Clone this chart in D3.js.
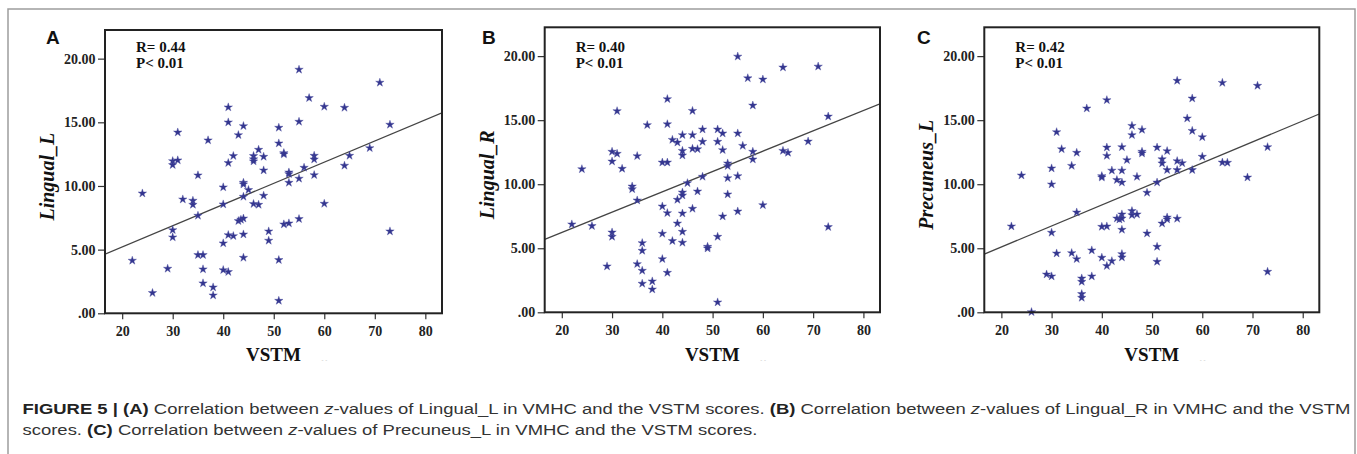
<!DOCTYPE html>
<html>
<head>
<meta charset="utf-8">
<script src="https://cdn.jsdelivr.net/npm/d3@7"></script>
<style>
  body { margin: 0; background: #fff; }
  svg { display: block; }
</style>
</head>
<body>
<div id="chart"></div>
<script>
// VSTM score vs z-value (VMHC), one list of [vstm, z] per panel
const lingualL = [
  [22,4.14],[24,9.42],[26,1.60],[29,3.51],[30,11.96],[30,11.65],[30,6.54],[30,5.97],
  [31,14.21],[31,12.02],[32,8.95],[34,8.85],[34,8.53],[35,10.84],[35,7.67],[35,4.58],
  [36,4.58],[36,3.46],[36,2.36],[37,13.59],[38,2.04],[38,1.41],[40,9.90],[40,8.56],
  [40,5.50],[40,3.40],[41,16.18],[41,15.00],[41,11.81],[41,6.15],[41,3.25],[42,12.36],
  [42,6.07],[43,14.00],[43,7.25],[43.5,7.35],[44,7.45],[44,14.71],[44,10.26],[44,10.13],
  [44,9.16],[44,6.20],[44,4.37],[45,9.69],[46,12.36],[46,12.10],[46,11.94],[46,8.59],
  [47,12.85],[47,8.53],[48,12.30],[48,11.23],[48,9.24],[49,6.44],[49,5.71],[51,14.58],
  [51,13.35],[51,4.19],[51,0.99],[52,12.59],[52,12.49],[52,6.99],[53,11.07],[53,10.94],
  [53,10.26],[53,7.07],[55,19.14],[55,15.05],[55,10.58],[55,7.41],[56,11.44],[57,16.91],
  [58,12.38],[58,12.09],[58,10.86],[60,16.23],[60,8.61],[64,16.15],[64,11.60],[65,12.38],
  [69,12.98],[71,18.12],[73,14.82],[73,6.44]
];
const lingualR = [
  [22,6.87],[24,11.18],[26,6.74],[29,3.59],[30,12.54],[30,11.78],[30,6.24],[30,5.90],
  [31,15.71],[31,12.38],[32,11.21],[34,9.83],[34,9.62],[35,12.20],[35,8.74],[35,3.77],
  [36,5.41],[36,4.81],[36,3.25],[36,2.24],[37,14.62],[38,2.42],[38,1.79],[40,11.70],
  [40,8.27],[40,6.14],[40,4.16],[41,16.65],[41,14.69],[41,11.70],[41,7.75],[41,3.09],
  [42,13.47],[42,5.57],[43,13.26],[43,8.79],[43,6.94],[44,13.84],[44,12.61],[44,12.25],
  [44,9.36],[44,9.13],[44,7.72],[44,6.29],[44,5.44],[45,10.09],[46,15.73],[46,13.84],
  [46,12.77],[46,8.09],[47,12.74],[47,9.44],[48,14.28],[48,13.32],[48,10.59],[49,5.12],
  [49,4.99],[51,14.28],[51,13.32],[51,5.90],[51,0.78],[52,13.97],[52,12.67],[52,7.49],
  [53,11.63],[53,11.42],[53,10.48],[53,9.21],[55,19.97],[55,13.97],[55,10.64],[55,7.88],
  [56,13.00],[57,18.28],[58,16.15],[58,12.54],[58,11.94],[60,18.18],[60,8.37],[64,19.12],
  [64,12.61],[65,12.46],[69,13.34],[71,19.19],[73,15.29],[73,6.66]
];
const precuneusL = [
  [22,6.71],[24,10.69],[26,0.02],[29,2.96],[30,11.24],[30,9.99],[30,6.22],[30,2.81],
  [31,14.07],[31,4.60],[32,12.74],[34,11.44],[34,4.63],[35,12.46],[35,7.80],[35,4.16],
  [36,2.65],[36,2.39],[36,1.43],[36,1.14],[37,15.92],[38,4.84],[38,2.81],[40,10.64],
  [40,10.53],[40,6.68],[40,4.27],[41,16.57],[41,12.87],[41,12.22],[41,6.71],[41,3.62],
  [42,11.07],[42,4.00],[43,10.33],[43,7.33],[43.5,7.25],[44,12.90],[44,11.07],[44,10.14],
  [44,7.65],[44,7.33],[44,6.45],[44,4.55],[44,4.29],[45,11.89],[46,14.56],[46,13.84],
  [46,7.91],[46,7.59],[47,10.58],[47,7.65],[48,14.25],[48,12.54],[48,12.41],[49,9.34],
  [49,6.16],[51,12.87],[51,10.14],[51,5.12],[51,3.95],[52,11.96],[52,11.63],[52,6.94],
  [53,12.59],[53,11.11],[53,7.41],[53,7.26],[55,18.08],[55,11.81],[55,11.11],[55,7.31],
  [56,11.65],[57,15.14],[58,16.70],[58,14.17],[58,11.11],[60,13.68],[60,12.15],[64,17.92],
  [64,11.70],[65,11.68],[69,10.53],[71,17.69],[73,12.90],[73,3.17]
];

// fit lines as drawn: [intercept, slope]
const fitA = [1.89, 0.1663];
const fitB = [3.06, 0.1586];
const fitC = [1.82, 0.1640];

const panelLetters = ["A", "B", "C"];
const yLabels = ["Lingual_L", "Lingual_R", "Precuneus_L"];
const rValues = ["R= 0.44", "R= 0.40", "R= 0.42"];
const pValues = ["P< 0.01", "P< 0.01", "P< 0.01"];
const xTicks = [20, 30, 40, 50, 60, 70, 80];
const yTicks = [0, 5, 10, 15, 20];
const xLabel = "VSTM";

const width = 1357, height = 454;
const serif = "'Liberation Serif', 'Times New Roman', serif";
const sans = "'Liberation Sans', Arial, Helvetica, sans-serif";

const panels = [
  { data: lingualL, fit: fitA, box: { left: 105, right: 442, top: 30, bottom: 313.3 }, letterX: 46 },
  { data: lingualR, fit: fitB, box: { left: 544.7, right: 880, top: 27.3, bottom: 312.3 }, letterX: 482 },
  { data: precuneusL, fit: fitC, box: { left: 984.3, right: 1319.3, top: 27.3, bottom: 312.3 }, letterX: 917 }
];

const svg = d3.select("#chart").append("svg")
  .attr("width", width)
  .attr("height", height);

// outer figure frame
svg.append("path")
  .attr("d", `M8,${height + 5} V9 H1355 V${height + 5}`)
  .attr("fill", "none")
  .attr("stroke", "#9d9d9d")
  .attr("stroke-width", 1.5);

const star = d3.symbol().type(d3.symbolStar).size(22);

panels.forEach((p, i) => {
  const b = p.box;
  const x = d3.scaleLinear().domain([16.6, 83.3]).range([b.left, b.right]);
  const y = d3.scaleLinear().domain([0, 22.25]).range([b.bottom, b.top]);

  const g = svg.append("g");

  // clip for regression line
  g.append("clipPath").attr("id", "clip" + i)
    .append("rect")
    .attr("x", b.left).attr("y", b.top)
    .attr("width", b.right - b.left).attr("height", b.bottom - b.top);

  // axes
  const xAxis = g.append("g")
    .attr("transform", `translate(0,${b.bottom})`)
    .call(d3.axisBottom(x).tickValues(xTicks).tickSize(6).tickPadding(7));
  const yAxis = g.append("g")
    .attr("transform", `translate(${b.left},0)`)
    .call(d3.axisLeft(y).tickValues(yTicks).tickSize(7).tickPadding(2.5)
      .tickFormat(d => d === 0 ? ".00" : d3.format(".2f")(d)));

  [xAxis, yAxis].forEach(a => {
    a.select(".domain").remove();
    a.selectAll("line").attr("stroke", "#333").attr("stroke-width", 1.2);
    a.selectAll("text")
      .attr("fill", "#222")
      .style("font-family", serif)
      .style("font-weight", "bold")
      .style("font-size", "14px");
  });

  // regression line
  const [a0, a1] = p.fit;
  const xd = x.domain();
  g.append("line")
    .attr("clip-path", `url(#clip${i})`)
    .attr("x1", x(xd[0])).attr("y1", y(a0 + a1 * xd[0]))
    .attr("x2", x(xd[1])).attr("y2", y(a0 + a1 * xd[1]))
    .attr("stroke", "#444")
    .attr("stroke-width", 1.3);

  // points
  g.append("g")
    .selectAll("path")
    .data(p.data)
    .join("path")
    .attr("d", star)
    .attr("transform", d => `translate(${x(d[0])},${y(d[1])}) rotate(0)`)
    .attr("fill", "#34368f")
    .attr("stroke", "#4a4ca0")
    .attr("stroke-width", 0.4);

  // plot frame
  g.append("rect")
    .attr("x", b.left).attr("y", b.top)
    .attr("width", b.right - b.left).attr("height", b.bottom - b.top)
    .attr("fill", "none")
    .attr("stroke", "#222")
    .attr("stroke-width", 2);

  // R / P annotation
  const ann = g.append("text")
    .attr("fill", "#111")
    .style("font-family", serif)
    .style("font-weight", "bold")
    .style("font-size", "15px");
  ann.append("tspan").attr("x", b.left + 31).attr("y", 51.5).text(rValues[i]);
  ann.append("tspan").attr("x", b.left + 31).attr("y", 68).text(pValues[i]);

  // panel letter
  g.append("text")
    .attr("x", p.letterX).attr("y", 44)
    .attr("fill", "#111")
    .style("font-family", sans)
    .style("font-weight", "bold")
    .style("font-size", "19px")
    .text(panelLetters[i]);

  // y label
  g.append("text")
    .attr("transform", `translate(${b.left - 51},${(b.top + b.bottom) / 2 + 5}) rotate(-90)`)
    .attr("text-anchor", "middle")
    .attr("fill", "#111")
    .style("font-family", serif)
    .style("font-weight", "bold")
    .style("font-style", "italic")
    .style("font-size", "20px")
    .text(yLabels[i]);

  // x label
  g.append("text")
    .attr("x", (b.left + b.right) / 2).attr("y", 361)
    .attr("text-anchor", "middle")
    .attr("fill", "#111")
    .style("font-family", serif)
    .style("font-weight", "bold")
    .style("font-size", "19px")
    .text(xLabel);

  g.append("text")
    .attr("x", (b.left + b.right) / 2 + 48).attr("y", 362)
    .attr("fill", "#bbb")
    .style("font-family", sans)
    .style("font-size", "6px")
    .text("- -");
});

// caption
const caption = svg.append("g")
  .style("font-family", sans)
  .style("font-size", "15.5px")
  .attr("fill", "#333");

function addLine(yPos, parts) {
  const t = caption.append("text").attr("x", 22.5).attr("y", yPos);
  parts.forEach(([txt, style]) => {
    const s = t.append("tspan").text(txt);
    if (style === "b") s.style("font-weight", "bold").attr("fill", "#222");
    if (style === "i") s.style("font-style", "italic");
  });
  return t;
}

const line1 = addLine(414, [
  ["FIGURE 5 | ", "b"], ["(A)", "b"], [" Correlation between ", ""], ["z", "i"],
  ["-values of Lingual_L in VMHC and the VSTM scores. ", ""], ["(B)", "b"],
  [" Correlation between ", ""], ["z", "i"], ["-values of Lingual_R in VMHC and the VSTM", ""]
]);
const line2 = addLine(435, [
  ["scores. ", ""], ["(C)", "b"], [" Correlation between ", ""], ["z", "i"],
  ["-values of Precuneus_L in VMHC and the VSTM scores.", ""]
]);

// squeeze caption to the measured width of the reference
const natural1 = line1.node().getComputedTextLength();
const k = 1328 / natural1;
line1.attr("textLength", 1328).attr("lengthAdjust", "spacingAndGlyphs");
line2.attr("textLength", line2.node().getComputedTextLength() * k).attr("lengthAdjust", "spacingAndGlyphs");
</script>
</body>
</html>
